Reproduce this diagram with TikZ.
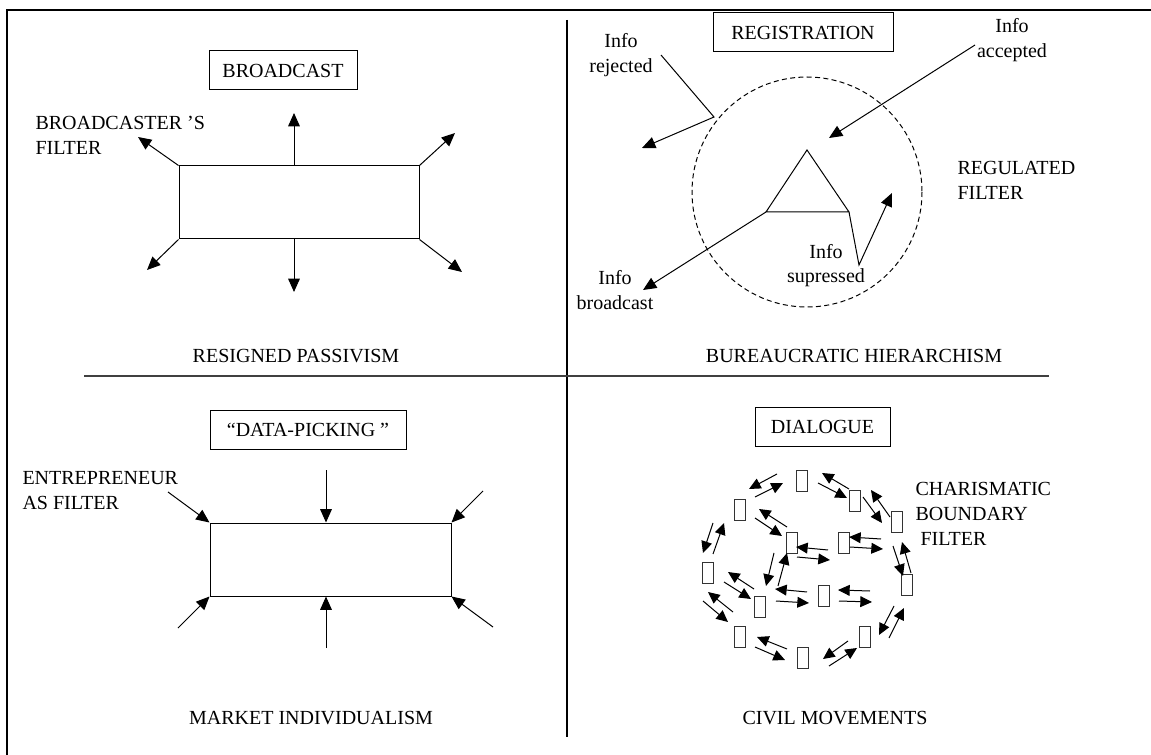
\documentclass[tikz,border=0pt]{standalone}
\usepackage{fontspec}
\setmainfont{Liberation Serif}
\usetikzlibrary{arrows.meta}

\begin{document}
\begin{tikzpicture}[x=0.6pt,y=-0.6pt,line width=0.6pt,
    font=\fontsize{12}{15}\selectfont,
    arr/.style={-{Triangle[length=8pt,width=7pt]}},
    sarr/.style={-{Triangle[length=7pt,width=6.5pt]}},
    heading/.style={draw,minimum height=23.4pt,inner sep=0pt},
    txt/.style={align=left,anchor=base west,inner sep=0pt},
    ctxt/.style={align=center,anchor=base,inner sep=0pt},
    cell/.style={draw=black!80,minimum width=6.6pt,minimum height=12.6pt,inner sep=0pt}]
    \useasboundingbox (0,0) rectangle (1151,755);
    % frame and quadrants
    \draw [line width=1.5pt] (1151,10) -- (7,10) -- (7,755);
    \draw [line width=0.8pt] (567,20) -- (567,737);
    \draw [line width=0.8pt,black!75] (84,376) -- (1049,376);

    % broadcast
    \node [heading,minimum width=88.8pt] (bchead) at (283,70.5) {BROADCAST};
    \node [draw,minimum width=144pt,minimum height=43.8pt,inner sep=0pt] (bcbox) at (299,202.5) {};
    \node [txt] (bcfilter) at (35,155) {BROADCASTER ’S\\FILTER};
    \draw [arr] (bcbox.north west) -- (138,137);
    \draw [arr] (bcbox.north west -| 294,0) -- (294,113);
    \draw [arr] (bcbox.north east) -- (455,133);
    \draw [arr] (bcbox.south west) -- (147,270);
    \draw [arr] (bcbox.south west -| 294,0) -- (294,292);
    \draw [arr] (bcbox.south east) -- (462,272);
    \node [ctxt] (passiv) at (296,363) {RESIGNED PASSIVISM};

    % registration
    \node [heading,minimum width=108pt] (reghead) at (803,32.5) {REGISTRATION};
    \draw [dash pattern=on 3pt off 2pt] (807,192) circle (115);
    \coordinate (apex) at (807,150);
    \coordinate (tl) at (766,212);
    \coordinate (tr) at (849,212);
    \coordinate (kink) at (859,265);
    \coordinate (rj) at (714,117);
    \draw (apex) -- (tl) -- (tr) -- cycle;
    \draw [arr] (tr) -- (kink) -- (892,193);
    \draw [arr] (tl) -- (643,290);
    \draw [arr] (975,45) -- (829,138);
    \draw [arr] (661,55) -- (rj) -- (642,148);
    \node [ctxt] (rejected) at (621,73) {Info\\rejected};
    \node [ctxt] (accepted) at (1012,58) {Info\\accepted};
    \node [ctxt] (infobc) at (615,310) {Info\\broadcast};
    \node [ctxt] (supr) at (826,283) {Info\\supressed};
    \node [txt] (regfilter) at (957,200) {REGULATED\\FILTER};
    \node [ctxt] (hier) at (854,363) {BUREAUCRATIC HIERARCHISM};

    % data-picking
    \node [heading,minimum width=117.6pt] (dphead) at (308,429.5) {“DATA-PICKING ”};
    \node [draw,minimum width=144.6pt,minimum height=43.8pt,inner sep=0pt] (dpbox) at (330.5,559.5) {};
    \node [txt] (entre) at (22,509) {ENTREPRENEUR\\AS FILTER};
    \draw [arr] (168,492) -- (dpbox.north west);
    \draw [arr] (326,470) -- (dpbox.north west -| 326,0);
    \draw [arr] (483,491) -- (dpbox.north east);
    \draw [arr] (178,628) -- (dpbox.south west);
    \draw [arr] (326,648) -- (dpbox.south west -| 326,0);
    \draw [arr] (493,627) -- (dpbox.south east);
    \node [ctxt] (market) at (311,724) {MARKET INDIVIDUALISM};

    % dialogue
    \node [heading,minimum width=81pt] (dlhead) at (822.5,427) {DIALOGUE};
    \foreach \x/\y [count=\i] in {802/481,855/501,897/522,740/510,792/543,844/543,708/573,
        907/585,824/596,760/607,740/637,865/637,803/658}
        \node [cell] (c\i) at (\x,\y) {};
    \foreach \a/\b/\c/\d in {777/474/749/489,755/497/783/483,849/489/822/473,818/483/847/498,
        890/517/871/490,863/497/882/523,787/527/759/509,755/518/782/536,
        828/550/796/547,797/557/830/560,881/539/849/537,850/547/883/549,
        713/523/703/553,713/554/724/523,893/546/903/576,911/573/902/542,
        774/553/766/586,778/586/787/553,754/589/728/572,724/582/751/599,
        807/592/775/589,776/601/809/603,870/591/838/590,839/601/872/602,
        733/612/708/592,703/601/728/622,894/606/879/635,889/638/904/608,
        787/649/757/637,755/647/785/660,848/641/823/659,829/666/857/648}
        \draw [sarr] (\a,\b) -- (\c,\d);
    \node [txt] (charis) at (915,545) {CHARISMATIC\\BOUNDARY\\\hspace{0.25em}FILTER};
    \node [ctxt] (civil) at (835,724) {CIVIL MOVEMENTS};
\end{tikzpicture}
\end{document}
